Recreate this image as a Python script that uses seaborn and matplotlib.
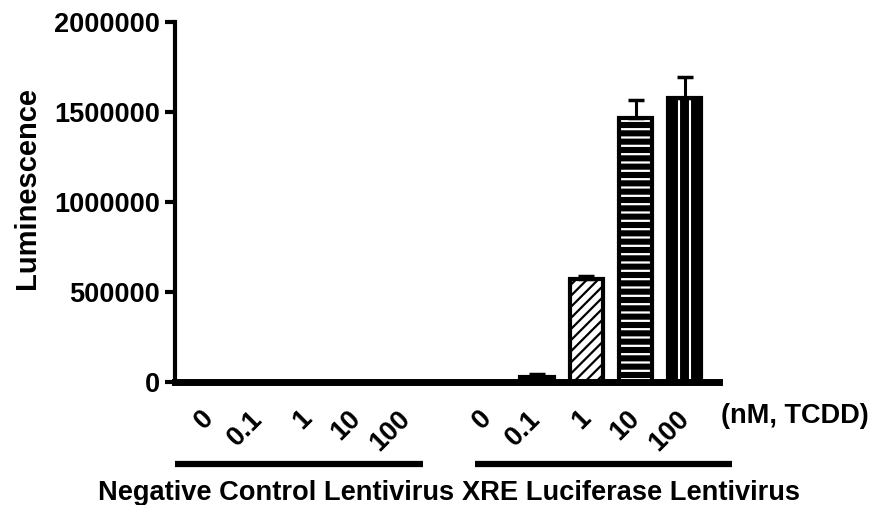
import numpy as np
import pandas as pd
import matplotlib
matplotlib.use('Agg')
import matplotlib.pyplot as plt
from matplotlib.ticker import ScalarFormatter
from matplotlib.transforms import ScaledTranslation
import seaborn as sns

# Data
doses = ['0', '0.1', '1', '10', '100']
groups = ['Negative Control Lentivirus', 'XRE Luciferase Lentivirus']
neg_values = [1000, 1000, 1000, 1000, 1000]
neg_errors = [0, 0, 0, 0, 0]
xre_values = [2000, 30000, 572000, 1465000, 1580000]
xre_errors = [0, 12000, 18000, 100000, 112000]
y_ticks = [0, 500000, 1000000, 1500000, 2000000]

# Setup styling
sns.set_theme(style='ticks')
plt.rcParams['font.family'] = ['Liberation Sans', 'DejaVu Sans']
plt.rcParams['font.weight'] = 'bold'
plt.rcParams['hatch.linewidth'] = 1.6

# Bar positions: two groups of five with a gap between them
group_gap = 5.65
pos = np.concatenate([np.arange(5), np.arange(5) + group_gap])
df = pd.DataFrame({
    'pos': pos,
    'value': neg_values + xre_values,
    'err': neg_errors + xre_errors,
    'dose': doses * 2,
})

# fill colour, hatch colour, hatch per dose
styles = {
    '0': ('white', 'white', ''),
    '0.1': ('black', 'black', ''),
    '1': ('white', 'black', '///'),
    '10': ('black', 'white', '--'),
    '100': ('black', 'black', ''),
}
bar_w = 0.67

fig = plt.figure(figsize=(8.74, 5.05), dpi=100)
ax = fig.add_axes([175 / 874, 1 - 382 / 505, 544 / 874, 360 / 505])

# fill layer with hatches
sns.barplot(data=df, x='pos', y='value', native_scale=True, width=bar_w,
            color='white', linewidth=0, errorbar=None, ax=ax)
for patch, dose in zip(ax.patches, df['dose']):
    fc, hc, hatch = styles[dose]
    patch.set_facecolor(fc)
    patch.set_edgecolor(hc)
    patch.set_hatch(hatch)
    patch.set_linewidth(0)
n0 = len(ax.patches)

# two white vertical stripes for the 100 nM bars (narrow bar with white edges)
sns.barplot(data=df, x='pos', y='value', native_scale=True, width=bar_w / 3,
            color='black', errorbar=None, ax=ax)
for patch, dose in zip(ax.patches[n0:], df['dose']):
    patch.set_facecolor('black')
    patch.set_edgecolor('white')
    patch.set_linewidth(1.5)
    patch.set_visible(dose == '100')
n1 = len(ax.patches)

# black outline layer
sns.barplot(data=df, x='pos', y='value', native_scale=True, width=bar_w,
            fill=False, color='black', errorbar=None, ax=ax)
for patch in ax.patches[n1:]:
    patch.set_facecolor('none')
    patch.set_edgecolor('black')
    patch.set_linewidth(3)

# upward-only error bars
has_err = df['err'] > 0
ax.errorbar(df.loc[has_err, 'pos'], df.loc[has_err, 'value'],
            yerr=[np.zeros(has_err.sum()), df.loc[has_err, 'err']],
            fmt='none', ecolor='black', elinewidth=2.2, capsize=6, capthick=2.5,
            zorder=3)

ax.set_xlim(-0.69, 10.34)
ax.set_ylim(0, 2000000)
ax.set_yticks(y_ticks)
fmt = ScalarFormatter(useOffset=False)
fmt.set_scientific(False)
ax.yaxis.set_major_formatter(fmt)
ax.set_xticks(pos)
ax.set_xticklabels(doses * 2, rotation=45, ha='right', rotation_mode='anchor')
ax.tick_params(axis='x', length=0, pad=17, labelsize=19.5)
ax.tick_params(axis='y', length=7, width=3, pad=4, labelsize=19.5, colors='black')
shift = ScaledTranslation(-9 / 100, 0, fig.dpi_scale_trans)
for lab in ax.get_xticklabels():
    lab.set_transform(lab.get_transform() + shift)
for lab in ax.get_xticklabels() + ax.get_yticklabels():
    lab.set_fontweight('bold')
    lab.set_color('black')
ax.set_xlabel('')
ax.set_ylabel('Luminescence', fontsize=21, fontweight='bold', color='black')
ax.yaxis.set_label_coords(-0.247, 0.54)

sns.despine(ax=ax)
ax.spines['left'].set_linewidth(3)
ax.spines['bottom'].set_linewidth(5)
ax.spines['left'].set_color('black')
ax.spines['bottom'].set_color('black')

# units label
ax.text(1.004, -0.114, '(nM, TCDD)', transform=ax.transAxes, ha='left', va='baseline',
        fontsize=19.5, fontweight='bold', color='black')

# group underlines and labels
line_spans = [(0.0, 0.455), (0.552, 1.024)]
label_x = [0.185, 0.839]
for (x0, x1), lx, name in zip(line_spans, label_x, groups):
    ax.plot([x0, x1], [-0.228, -0.228], transform=ax.transAxes, color='black',
            lw=4.5, clip_on=False, solid_capstyle='butt')
    ax.text(lx, -0.328, name, transform=ax.transAxes, ha='center', va='baseline',
            fontsize=19.6, fontweight='bold', color='black')

fig.savefig('out.png', dpi=100)
plt.close(fig)
